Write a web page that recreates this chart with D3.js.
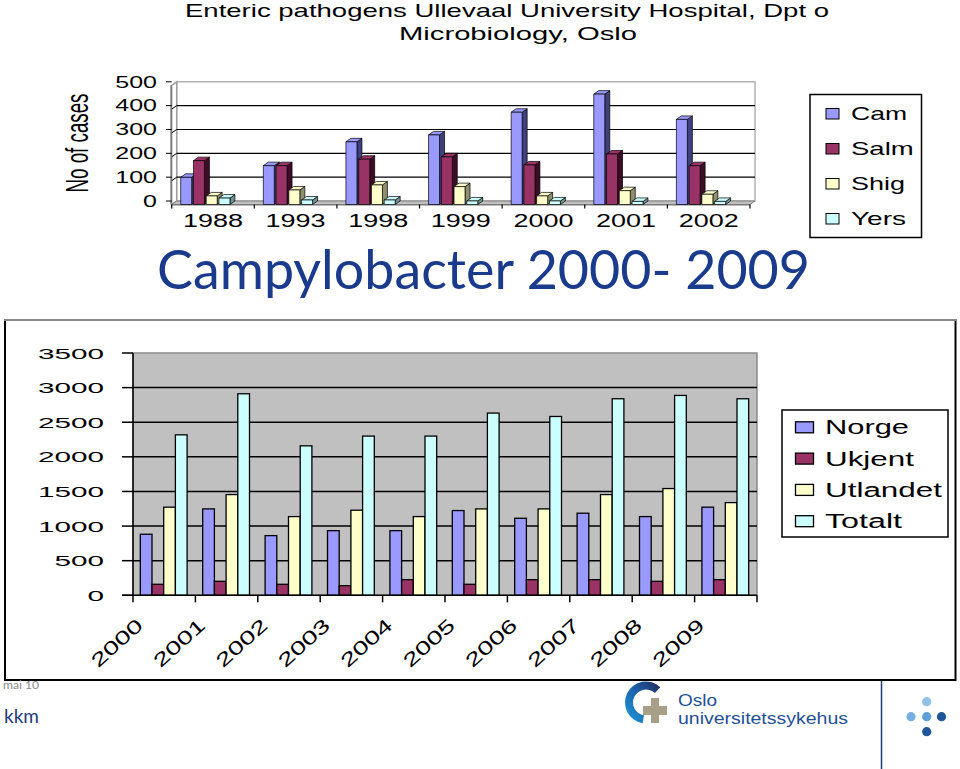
<!DOCTYPE html>
<html><head><meta charset="utf-8">
<script src="https://cdn.jsdelivr.net/npm/d3@7"></script>
<style>body{margin:0;background:#fff}svg{display:block}</style>
</head><body>
<script>
// ---- top chart data ----
const topYears = ['1988','1993','1998','1999','2000','2001','2002'];
const topSeries = ['Cam','Salm','Shig','Yers'];
const cam  = [114,163,263,292,387,463,357];
const salm = [184,163,190,200,166,212,163];
const shig = [36,61,82,75,36,58,43];
const yers = [27,19,19,15,15,13,13];
const topTicks = [0,100,200,300,400,500];
// ---- bottom chart data ----
const botYears = ['2000','2001','2002','2003','2004','2005','2006','2007','2008','2009'];
const botSeries = ['Norge','Ukjent','Utlandet','Totalt'];
const norge    = [882,1248,862,934,934,1224,1113,1186,1137,1273];
const ukjent   = [159,202,159,139,226,159,226,226,202,226];
const utlandet = [1273,1455,1137,1229,1137,1248,1248,1455,1542,1339];
const totalt   = [2318,2911,2159,2300,2300,2632,2583,2839,2887,2839];
const botTicks = [0,500,1000,1500,2000,2500,3000,3500];

const colors = ['#9999FF','#993366','#FFFFCC','#CCFFFF'];
const sideColors = ['#40407f','#3f0c28','#8f8f70','#709090'];
const F = "'Liberation Sans', Arial, sans-serif";

const svg = d3.select('body').append('svg').attr('width',960).attr('height',769);

// ---------- Title ----------
svg.append('text').attr('x',507).attr('y',17).attr('text-anchor','middle')
  .attr('font-family',F).attr('font-size',19).attr('textLength',644).attr('lengthAdjust','spacingAndGlyphs')
  .text('Enteric pathogens Ullevaal University Hospital, Dpt o');
svg.append('text').attr('x',518).attr('y',40).attr('text-anchor','middle')
  .attr('font-family',F).attr('font-size',19).attr('textLength',238).attr('lengthAdjust','spacingAndGlyphs')
  .text('Microbiology, Oslo');

// ---------- Top 3D chart ----------
const topData = [cam,salm,shig,yers];
const dx = 5, dy = -3.5;
const yF = d3.scaleLinear().domain([0,500]).range([204.5, 85.3]);
const yB = v => yF(v) + dy;
const xg = d3.scaleBand().domain(topYears).range([171.7, 750]);
const xs = d3.scaleBand().domain(topSeries).range([9, 60]);
const bw = 11;
const tg = svg.append('g');
// back wall
tg.append('rect').attr('x',171.7+dx).attr('y',yB(500)).attr('width',750-171.7).attr('height',yB(0)-yB(500))
  .attr('fill','#fff').attr('stroke','#a0a0a0').attr('stroke-width',1.2);
// side wall
tg.append('path').attr('d',`M171.7,${yF(0)}L${171.7+dx},${yB(0)}L${171.7+dx},${yB(500)}L171.7,${yF(500)}Z`)
  .attr('fill','#fff').attr('stroke','#a0a0a0').attr('stroke-width',1.5);
// gridlines
topTicks.slice(1,-1).forEach(t=>{
  tg.append('line').attr('x1',171.7+dx).attr('x2',750+dx).attr('y1',yB(t)).attr('y2',yB(t)).attr('stroke','#000').attr('stroke-width',1.2);
  tg.append('line').attr('x1',171.7).attr('x2',171.7+dx).attr('y1',yF(t)).attr('y2',yB(t)).attr('stroke','#000').attr('stroke-width',1);
});
// floor
tg.append('path').attr('d',`M171.7,${yF(0)}L750,${yF(0)}L${750+dx},${yB(0)}L${171.7+dx},${yB(0)}Z`)
  .attr('fill','#c0c0c0').attr('stroke','#808080').attr('stroke-width',1);
// y axis ticks + labels
tg.append('line').attr('x1',171).attr('x2',171).attr('y1',yF(500)).attr('y2',yF(0)).attr('stroke','#555').attr('stroke-width',1);
topTicks.forEach(t=>{
  tg.append('line').attr('x1',166).attr('x2',171.7).attr('y1',yB(t)).attr('y2',yB(t)).attr('stroke','#000');
  const s = String(t);
  tg.append('text').attr('x',157).attr('y',yB(t)+5.8).attr('text-anchor','end')
    .attr('font-family',F).attr('font-size',16.5).attr('textLength',13.9*s.length).attr('lengthAdjust','spacingAndGlyphs').text(s);
});
// x axis ticks + labels
tg.append('line').attr('x1',171.7).attr('x2',750).attr('y1',yF(0)+0.5).attr('y2',yF(0)+0.5).attr('stroke','#777');
topYears.concat(['end']).forEach((y,i)=>{
  const x = i<topYears.length ? xg(y) : 750;
  tg.append('line').attr('x1',x).attr('x2',x).attr('y1',yF(0)).attr('y2',yF(0)+4).attr('stroke','#000').attr('stroke-width',1.2);
});
topYears.forEach(y=>{
  tg.append('text').attr('x',xg(y)+xg.bandwidth()/2).attr('y',227).attr('text-anchor','middle')
    .attr('font-family',F).attr('font-size',18).attr('textLength',60).attr('lengthAdjust','spacingAndGlyphs').text(y);
});
// bars
topYears.forEach((yr,gi)=>{
  topSeries.forEach((s,si)=>{
    const v = topData[si][gi];
    const x = xg(yr)+xs(s), yt = yF(v), yb = yF(0);
    const g = tg.append('g').attr('stroke','#000').attr('stroke-width',0.7).attr('stroke-linejoin','round');
    g.append('path').attr('d',`M${x+bw},${yb}L${x+bw+dx},${yb+dy}L${x+bw+dx},${yt+dy}L${x+bw},${yt}Z`).attr('fill',sideColors[si]);
    g.append('path').attr('d',`M${x},${yt}L${x+dx},${yt+dy}L${x+bw+dx},${yt+dy}L${x+bw},${yt}Z`).attr('fill',colors[si]);
    g.append('rect').attr('x',x).attr('y',yt).attr('width',bw).attr('height',yb-yt).attr('fill',colors[si]);
  });
});
// y title
svg.append('text').attr('transform','translate(88,143) rotate(-90)').attr('text-anchor','middle')
  .attr('font-family',F).attr('font-size',31).attr('textLength',99).attr('lengthAdjust','spacingAndGlyphs').text('No of cases');
// top legend
svg.append('rect').attr('x',810).attr('y',94.5).attr('width',111.5).attr('height',143).attr('fill','#fff').attr('stroke','#000').attr('stroke-width',1.5);
const topLegW = [56,62.7,54,55];
topSeries.forEach((s,i)=>{
  const by = 120 + i*35;
  svg.append('rect').attr('x',826).attr('y',by-11.5).attr('width',13).attr('height',10.5).attr('fill',colors[i]).attr('stroke','#000').attr('stroke-width',1);
  svg.append('text').attr('x',851).attr('y',by).attr('font-family',F).attr('font-size',18.5)
    .attr('textLength',topLegW[i]).attr('lengthAdjust','spacingAndGlyphs').text(s);
});

// ---------- Campylobacter heading ----------
svg.append('text').attr('x',157).attr('y',289).attr('font-family',"Lato, 'Open Sans', sans-serif").attr('font-size',54)
  .attr('fill','#1a3a8c').attr('textLength',653).attr('lengthAdjust','spacingAndGlyphs')
  .text('Campylobacter  2000- 2009');

// ---------- Bottom chart ----------
const bg = svg.append('g');
bg.append('rect').attr('x',5).attr('y',320).attr('width',950.5).attr('height',360).attr('fill','#fff').attr('stroke','#000').attr('stroke-width',2);
bg.append('line').attr('x1',4).attr('x2',957).attr('y1',320).attr('y2',320).attr('stroke','#888').attr('stroke-width',2);
const botData = [norge,ukjent,utlandet,totalt];
const px0 = 133, px1 = 757;
const yb = d3.scaleLinear().domain([0,3500]).range([595.3, 353]);
const xb = d3.scaleBand().domain(botYears).range([px0, px1]);
const xsb = d3.scaleBand().domain(botSeries).range([7.3, 54.1]);
bg.append('rect').attr('x',px0).attr('y',yb(3500)).attr('width',px1-px0).attr('height',yb(0)-yb(3500))
  .attr('fill','#c0c0c0').attr('stroke','#8a8a8a').attr('stroke-width',1.5);
botTicks.slice(1,-1).forEach(t=>{
  bg.append('line').attr('x1',px0).attr('x2',px1).attr('y1',yb(t)).attr('y2',yb(t)).attr('stroke','#000').attr('stroke-width',1.5);
});
botTicks.forEach(t=>{
  bg.append('line').attr('x1',122).attr('x2',px0).attr('y1',yb(t)).attr('y2',yb(t)).attr('stroke','#000').attr('stroke-width',1.5);
  const s = String(t);
  bg.append('text').attr('x',104).attr('y',yb(t)+5.5).attr('text-anchor','end')
    .attr('font-family',F).attr('font-size',15.5).attr('textLength',16.5*s.length).attr('lengthAdjust','spacingAndGlyphs').text(s);
});
// bars
botYears.forEach((yr,gi)=>{
  botSeries.forEach((s,si)=>{
    const v = botData[si][gi];
    bg.append('rect').attr('x',xb(yr)+xsb(s)).attr('y',yb(v)).attr('width',xsb.bandwidth()).attr('height',yb(0)-yb(v))
      .attr('fill',colors[si]).attr('stroke','#000').attr('stroke-width',1.3);
  });
});
// axes lines
bg.append('line').attr('x1',px0).attr('x2',px0).attr('y1',yb(3500)).attr('y2',yb(0)).attr('stroke','#000').attr('stroke-width',1.5);
bg.append('line').attr('x1',122).attr('x2',px1).attr('y1',yb(0)).attr('y2',yb(0)).attr('stroke','#000').attr('stroke-width',1.5);
botYears.concat(['end']).forEach((y,i)=>{
  const x = i<botYears.length ? xb(y) : px1;
  bg.append('line').attr('x1',x).attr('x2',x).attr('y1',yb(0)).attr('y2',yb(0)+7).attr('stroke','#000').attr('stroke-width',1.5);
});
botYears.forEach(y=>{
  const cx = xb(y)+xb.bandwidth()/2;
  bg.append('text').attr('transform',`translate(${cx-20},627) rotate(-42)`).attr('text-anchor','end')
    .attr('font-family',F).attr('font-size',19).attr('textLength',62).attr('lengthAdjust','spacingAndGlyphs').text(y);
});
// bottom legend
bg.append('rect').attr('x',782).attr('y',410).attr('width',166).attr('height',127).attr('fill','#fff').attr('stroke','#000').attr('stroke-width',1.5);
const botLegW = [84,89,117,77];
botSeries.forEach((s,i)=>{
  const by = 434.3 + i*31.3;
  bg.append('rect').attr('x',795.5).attr('y',by-12.5).attr('width',18).attr('height',11).attr('fill',colors[i]).attr('stroke','#000').attr('stroke-width',1.3);
  bg.append('text').attr('x',825).attr('y',by).attr('font-family',F).attr('font-size',20)
    .attr('textLength',botLegW[i]).attr('lengthAdjust','spacingAndGlyphs').text(s);
});

// ---------- Footer ----------
svg.append('text').attr('x',3).attr('y',689).attr('font-family',"Lato, sans-serif").attr('font-size',12).attr('fill','#8c8c8c')
  .attr('textLength',36).attr('lengthAdjust','spacingAndGlyphs').text('mai 10');
svg.append('text').attr('x',4).attr('y',723).attr('font-family',"Lato, sans-serif").attr('font-size',19).attr('fill','#1f3b7a').text('kkm');
// logo
const defs = svg.append('defs');
const lg = defs.append('linearGradient').attr('id','arcg').attr('x1','0').attr('y1','1').attr('x2','1').attr('y2','0');
lg.append('stop').attr('offset','0').attr('stop-color','#1aa0dc');
lg.append('stop').attr('offset','0.55').attr('stop-color','#1c5fa8');
lg.append('stop').attr('offset','1').attr('stop-color','#222a5e');
svg.append('path').attr('transform','translate(646,702.5)')
  .attr('d', d3.arc().innerRadius(13).outerRadius(21).startAngle(Math.PI*1.05).endAngle(Math.PI*2+0.75)())
  .attr('fill','url(#arcg)');
svg.append('path').attr('d','M651,698h8v8h8v9h-8v8h-8v-8h-8v-9h8z').attr('fill','#a89f89');
svg.append('text').attr('x',678).attr('y',705.5).attr('font-family',F).attr('font-size',16).attr('fill','#1f5096')
  .attr('textLength',39).attr('lengthAdjust','spacingAndGlyphs').text('Oslo');
svg.append('text').attr('x',678).attr('y',723.5).attr('font-family',F).attr('font-size',16).attr('fill','#1f5096')
  .attr('textLength',170).attr('lengthAdjust','spacingAndGlyphs').text('universitetssykehus');
svg.append('line').attr('x1',881.5).attr('x2',881.5).attr('y1',681).attr('y2',769).attr('stroke','#1f3b7a').attr('stroke-width',1.5);
[[926.7,701.7,'#8fc0e8'],[911,716.7,'#77b1e2'],[926.7,716.7,'#5d9fd8'],[941.5,716.7,'#1f5699'],[926.7,731.7,'#1f5699']]
  .forEach(d=>svg.append('circle').attr('cx',d[0]).attr('cy',d[1]).attr('r',4.6).attr('fill',d[2]));
</script>
</body></html>
